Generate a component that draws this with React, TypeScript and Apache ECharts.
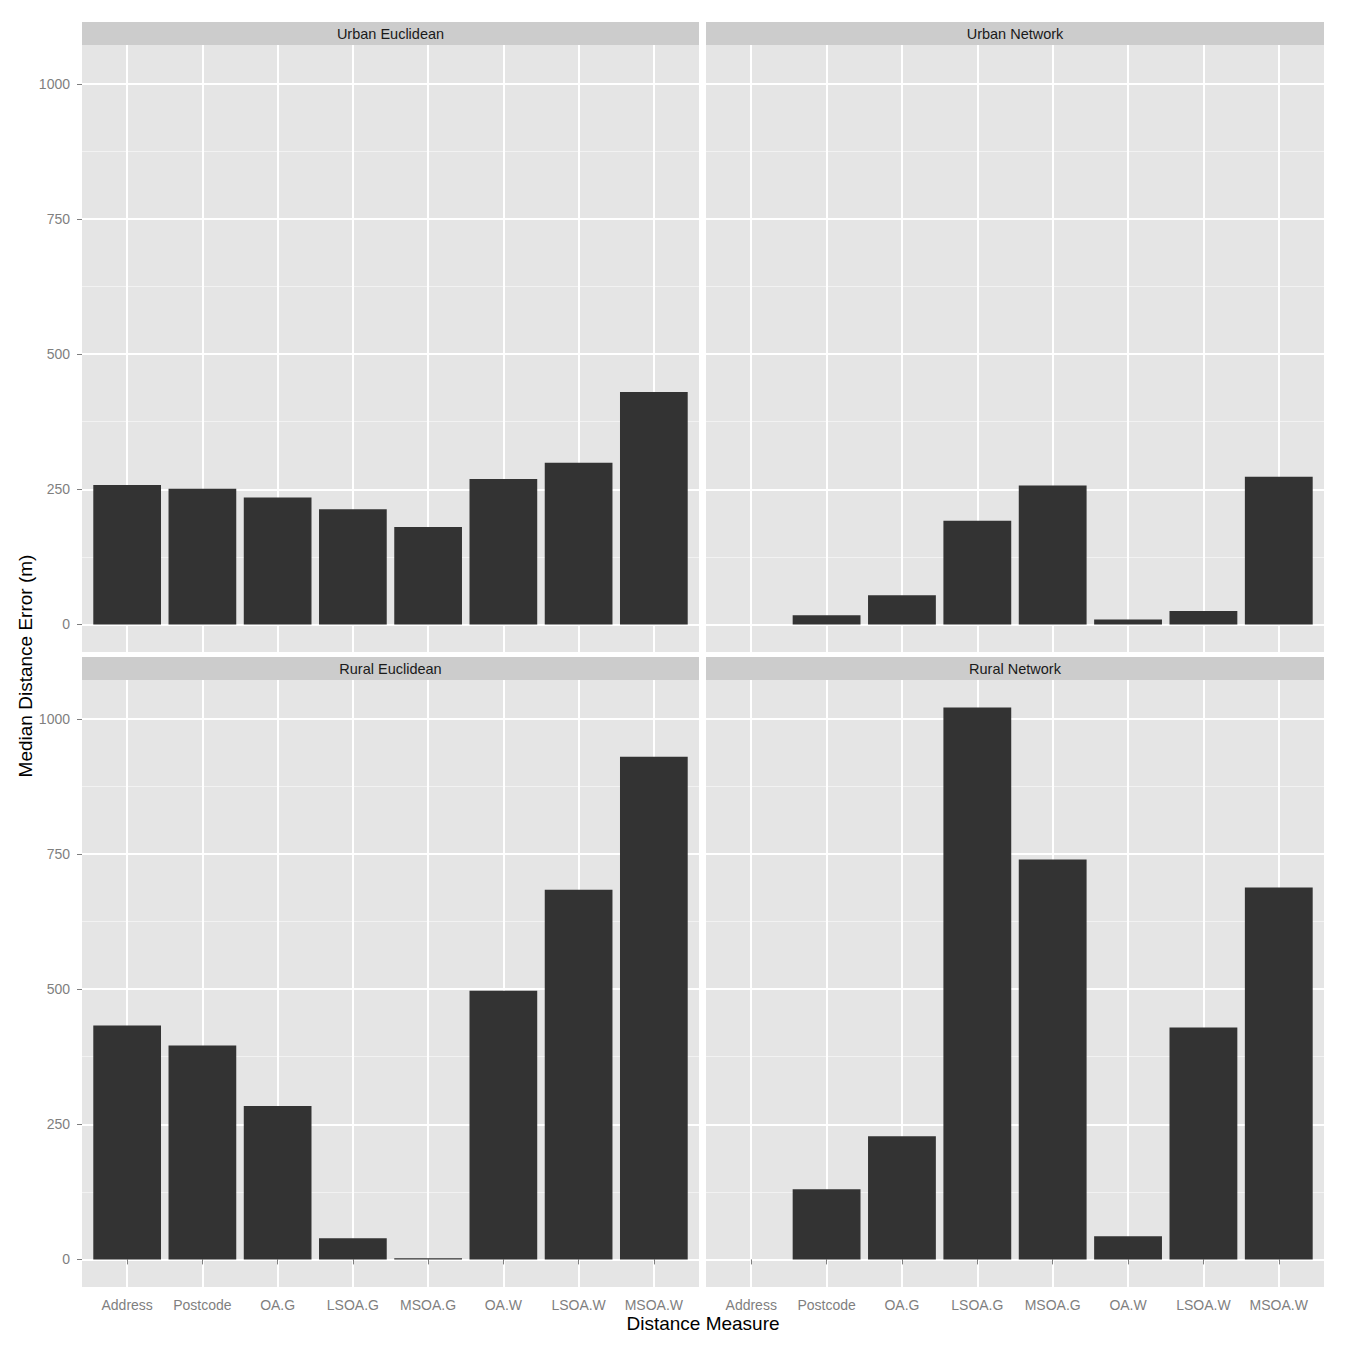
import React, { useEffect, useRef } from "react";
import * as echarts from "echarts";

const categories = ["Address", "Postcode", "OA.G", "LSOA.G", "MSOA.G", "OA.W", "LSOA.W", "MSOA.W"];
const panelTitles = ["Urban Euclidean", "Urban Network", "Rural Euclidean", "Rural Network"];
const urbanEuclidean = [258, 251, 235, 213, 180, 269, 299, 430];
const urbanNetwork = [0, 17, 54, 192, 257, 9, 25, 273];
const ruralEuclidean = [433, 396, 284, 39, 2, 497, 684, 930];
const ruralNetwork = [0, 130, 228, 1021, 740, 43, 429, 688];
const majorTicks = [0, 250, 500, 750, 1000];
const minorTicks = [125, 375, 625, 875];
const xTitle = "Distance Measure";
const yTitle = "Median Distance Error (m)";

const panelValues = [urbanEuclidean, urbanNetwork, ruralEuclidean, ruralNetwork];

// layout (pixels)
const panels = [
  { left: 82, top: 45, width: 617, height: 607 },
  { left: 706, top: 45, width: 618, height: 607 },
  { left: 82, top: 680, width: 617, height: 607 },
  { left: 706, top: 680, width: 618, height: 607 },
];
const STRIP_H = 23;
const FONT = "'Liberation Sans', Arial, Helvetica, sans-serif";

export default function App() {
  const ref = useRef<HTMLDivElement>(null);
  useEffect(() => {
    if (!ref.current) return;
    const chart = echarts.init(ref.current, undefined, { renderer: "svg" });

    const allVals = panelValues.flat();
    const maxV = Math.max(...allVals);
    const minV = Math.min(0, ...allVals);
    const pad = (maxV - minV) * 0.05;
    const yMin = minV - pad;
    const yMax = maxV + pad;
    const catIdx = categories.map((_, i) => i + 1);

    const grids = panels.map((p) => ({
      left: p.left,
      top: p.top,
      width: p.width,
      height: p.height,
      show: true,
      backgroundColor: "#E5E5E5",
      borderWidth: 0,
      containLabel: false,
    }));

    const xAxes = panels.map((_, i) => ({
      type: "value",
      gridIndex: i,
      min: 0.4,
      max: 8.6,
      axisLine: { show: false },
      axisTick: {
        show: i >= 2,
        customValues: catIdx,
        length: 5,
        lineStyle: { color: "#7F7F7F", width: 1 },
      },
      axisLabel: {
        show: i >= 2,
        customValues: catIdx,
        formatter: (v: number) => categories[Math.round(v) - 1] ?? "",
        color: "#7F7F7F",
        fontSize: 14,
        fontFamily: FONT,
        margin: 11,
      },
      splitLine: { show: true, lineStyle: { color: "#FFFFFF", width: 2 } },
    }));

    const yAxesMajor = panels.map((_, i) => ({
      type: "value",
      gridIndex: i,
      min: yMin,
      max: yMax,
      axisLine: { show: false },
      axisTick: {
        show: i % 2 === 0,
        customValues: majorTicks,
        length: 5,
        lineStyle: { color: "#7F7F7F", width: 1 },
      },
      axisLabel: {
        show: i % 2 === 0,
        customValues: majorTicks,
        formatter: (v: number) => String(Math.round(v)),
        color: "#7F7F7F",
        fontSize: 14,
        fontFamily: FONT,
        margin: 12,
      },
      splitLine: { show: true, lineStyle: { color: "#FFFFFF", width: 2 } },
    }));

    const yAxesMinor = panels.map((_, i) => ({
      type: "value",
      gridIndex: i,
      min: yMin,
      max: yMax,
      axisLine: { show: false },
      axisTick: { show: false, customValues: minorTicks },
      axisLabel: { show: false, customValues: minorTicks },
      splitLine: { show: true, lineStyle: { color: "#F2F2F2", width: 1 } },
    }));

    const series = panelValues.map((vals, i) => ({
      type: "bar",
      xAxisIndex: i,
      yAxisIndex: i,
      barWidth: "90%",
      itemStyle: { color: "#333333" },
      data: vals.map((v, j) => [j + 1, v]),
      silent: true,
    }));

    const graphic: any[] = [];
    panels.forEach((p, i) => {
      graphic.push({
        type: "rect",
        shape: { x: p.left, y: p.top - STRIP_H, width: p.width, height: STRIP_H },
        style: { fill: "#CCCCCC" },
        silent: true,
      });
      graphic.push({
        type: "text",
        x: p.left + p.width / 2,
        y: p.top - STRIP_H / 2,
        style: {
          text: panelTitles[i],
          fill: "#1A1A1A",
          fontSize: 14.5,
          fontFamily: FONT,
          align: "center",
          verticalAlign: "middle",
        },
        silent: true,
      });
    });
    graphic.push({
      type: "text",
      x: (panels[0].left + panels[1].left + panels[1].width) / 2,
      y: 1323,
      style: {
        text: xTitle,
        fill: "#000000",
        fontSize: 19,
        fontFamily: FONT,
        align: "center",
        verticalAlign: "middle",
      },
      silent: true,
    });
    graphic.push({
      type: "text",
      x: 25,
      y: 666,
      rotation: Math.PI / 2,
      style: {
        text: yTitle,
        fill: "#000000",
        fontSize: 19,
        fontFamily: FONT,
        align: "center",
        verticalAlign: "middle",
      },
      silent: true,
    });

    chart.setOption({
      animation: false,
      backgroundColor: "#FFFFFF",
      grid: grids,
      xAxis: xAxes,
      yAxis: [...yAxesMajor, ...yAxesMinor],
      series,
      graphic,
    });
    return () => chart.dispose();
  }, []);

  return (
    <div
      ref={ref}
      style={{ position: "fixed", left: 0, top: 0, width: 1347, height: 1347 }}
    />
  );
}
